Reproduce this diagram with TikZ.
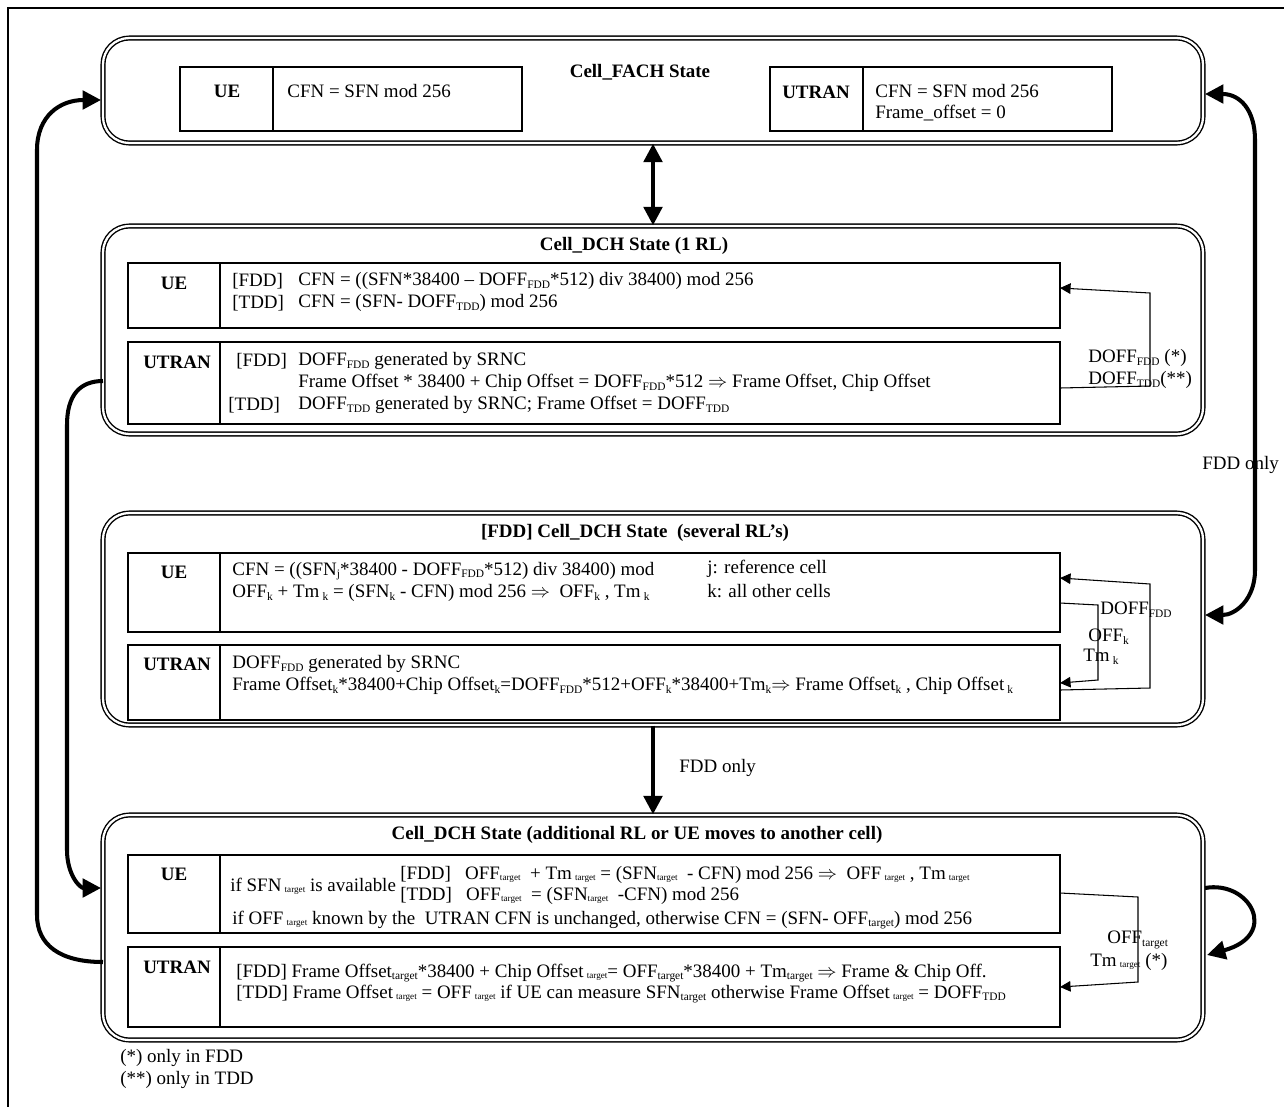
\documentclass[tikz,border=0pt]{standalone}
\usepackage{fontspec}
\setmainfont{Liberation Serif}
\usetikzlibrary{arrows.meta,fit}
\newcommand\sbx[1]{\raisebox{-0.3ex}{\fontsize{6.5}{7}\selectfont #1}}
\newcommand\tgt{\raisebox{-0.15ex}{\fontsize{5.2}{6}\selectfont target}}
\newcommand\imp{$\Rightarrow$}
\begin{document}
\begin{tikzpicture}[x=0.02cm, y=-0.02cm,
  every node/.style={font=\fontsize{10.8}{12.5}\selectfont},
  statebox/.style={draw, double, double distance=1.3pt, line width=0.8pt, rounded corners=15pt, inner sep=0pt},
  cellbox/.style={draw, line width=0.6pt, inner sep=0pt},
  hd/.style={font=\fontsize{10.8}{12.5}\selectfont\bfseries, inner sep=0pt},
  tx/.style={anchor=west, inner sep=0pt},
  bigarrow/.style={line width=2.3pt, -{Triangle[length=10.5pt,width=10.5pt]}},
  bigdbl/.style={line width=2.3pt, {Triangle[length=10.5pt,width=10.5pt]}-{Triangle[length=10.5pt,width=10.5pt]}},
  loopln/.style={line width=0.6pt, -{Triangle[length=6pt,width=6pt]}}]
\useasboundingbox (0,0) rectangle (1284,1106);
\draw[line width=1pt] (8,1110) -- (8,8) -- (1290,8);

% ---------- Cell_FACH ----------
\node[statebox, fit={(103,38) (1203,143)}] (s1) {};
\node[hd] (t1) at (640,72) {Cell\_FACH State};
\node[cellbox, fit={(180,67) (522,131)}] (c1a) {};
\draw[line width=0.6pt] (273,67) -- (273,131);
\node[hd] (c1aL) at (227,91) {UE};
\node[tx] (c1aT) at (287,91) {CFN = SFN mod 256};
\node[cellbox, fit={(770,67) (1112,131)}] (c1b) {};
\draw[line width=0.6pt] (863,67) -- (863,131);
\node[hd] (c1bL) at (816,92) {UTRAN};
\node[tx] (c1bT1) at (875,91) {CFN = SFN mod 256};
\node[tx] (c1bT2) at (875,113) {Frame\_offset = 0};

% ---------- Cell_DCH (1 RL) ----------
\node[statebox, fit={(103,226) (1203,434)}] (s2) {};
\node[hd] (t2) at (634,246) {Cell\_DCH State (1 RL)};
\node[cellbox, fit={(128,263) (1060,328)}] (c2a) {};
\draw[line width=0.6pt] (220,263) -- (220,328);
\node[hd] (c2aL) at (174,283) {UE};
\node[tx] (c2a1) at (232,281) {[FDD]};
\node[tx] (c2a2) at (298,281) {CFN = ((SFN*38400 – DOFF\sbx{FDD}*512) div 38400) mod 256};
\node[tx] (c2a3) at (232,303) {[TDD]};
\node[tx] (c2a4) at (298,303) {CFN = (SFN- DOFF\sbx{TDD}) mod 256};
\node[cellbox, fit={(128,342) (1060,424)}] (c2b) {};
\draw[line width=0.6pt] (220,342) -- (220,424);
\node[hd] (c2bL) at (177,362) {UTRAN};
\node[tx] (c2b1) at (236,361) {[FDD]};
\node[tx] (c2b2) at (298,361) {DOFF\sbx{FDD} generated by SRNC};
\node[tx] (c2b3) at (298,383) {Frame Offset * 38400 + Chip Offset = DOFF\sbx{FDD}*512 \imp{} Frame Offset, Chip Offset};
\node[tx] (c2b4) at (228,405) {[TDD]};
\node[tx] (c2b5) at (298,405) {DOFF\sbx{TDD} generated by SRNC; Frame Offset = DOFF\sbx{TDD}};
\coordinate (u2s) at (1060,388);
\coordinate (u2e) at (1060,288);
\draw[loopln] (u2s) -- (1150,386) -- (1150,293) -- (u2e);
\node[tx] (d2a) at (1088,358) {DOFF\sbx{FDD} (*)};
\node[tx] (d2b) at (1088,380) {DOFF\sbx{TDD}(**)};

% ---------- [FDD] Cell_DCH (several RL's) ----------
\node[statebox, fit={(103,513) (1203,725)}] (s3) {};
\node[hd] (t3) at (635,533) {[FDD] Cell\_DCH State\ \ (several RL’s)};
\node[cellbox, fit={(128,553) (1060,632)}] (c3a) {};
\draw[line width=0.6pt] (220,553) -- (220,632);
\node[hd] (c3aL) at (174,572) {UE};
\node[tx] (c3a1) at (232,571) {CFN = ((SFN\sbx{j}*38400 - DOFF\sbx{FDD}*512) div 38400) mod};
\node[tx] (c3a2) at (232,593) {OFF\sbx{k} + Tm\,\sbx{k} = (SFN\sbx{k} - CFN) mod 256 \imp\ \ OFF\sbx{k} , Tm\,\sbx{k}};
\node[tx] (c3a3) at (707,569) {j: reference cell};
\node[tx] (c3a4) at (707,591) {k: all other cells};
\node[cellbox, fit={(128,645) (1060,720)}] (c3b) {};
\draw[line width=0.6pt] (220,645) -- (220,720);
\node[hd] (c3bL) at (177,664) {UTRAN};
\node[tx] (c3b1) at (232,664) {DOFF\sbx{FDD} generated by SRNC};
\node[tx] (c3b2) at (232,686) {Frame Offset\sbx{k}*38400+Chip Offset\sbx{k}=DOFF\sbx{FDD}*512+OFF\sbx{k}*38400+Tm\sbx{k}\imp{} Frame Offset\sbx{k} , Chip Offset\,\sbx{k}};
\coordinate (u3s) at (1060,690);
\coordinate (u3e) at (1060,578);
\coordinate (u3s2) at (1060,603);
\coordinate (u3e2) at (1060,683);
\draw[loopln] (u3s) -- (1150,688) -- (1150,584) -- (u3e);
\draw[loopln] (u3s2) -- (1098,605) -- (1098,680) -- (u3e2);
\node[tx] (d3a) at (1100,610) {DOFF\sbx{FDD}};
\node[tx] (d3b) at (1088,637) {OFF\sbx{k}};
\node[tx] (d3c) at (1083,657) {Tm\,\sbx{k}};

% ---------- Cell_DCH (additional RL) ----------
\node[statebox, fit={(103,815) (1203,1040)}] (s4) {};
\node[hd] (t4) at (637,835) {Cell\_DCH State (additional RL or UE moves to another cell)};
\node[cellbox, fit={(128,855) (1060,933)}] (c4a) {};
\draw[line width=0.6pt] (220,855) -- (220,933);
\node[hd] (c4aL) at (174,874) {UE};
\node[tx] (c4a1) at (230,886) {if SFN\,\tgt{} is available};
\node[tx] (c4a2) at (400,875) {[FDD]\ \ \ OFF\tgt\ \ + Tm\,\tgt{} = (SFN\tgt\ \ - CFN) mod 256 \imp\ \ OFF\,\tgt\ , Tm\,\tgt};
\node[tx] (c4a3) at (400,896) {[TDD]\ \ \ OFF\tgt\ \ = (SFN\tgt\ \ -CFN) mod 256};
\node[tx] (c4a4) at (232,920) {if OFF\,\tgt{} known by the\ \ UTRAN CFN is unchanged, otherwise CFN = (SFN- OFF\sbx{target}) mod 256};
\node[cellbox, fit={(128,947) (1060,1027)}] (c4b) {};
\draw[line width=0.6pt] (220,947) -- (220,1027);
\node[hd] (c4bL) at (177,967) {UTRAN};
\node[tx] (c4b1) at (236,973) {[FDD] Frame Offset\sbx{target}*38400 + Chip Offset\,\tgt= OFF\sbx{target}*38400 + Tm\sbx{target} \imp{} Frame \& Chip Off.};
\node[tx] (c4b2) at (236,994) {[TDD] Frame Offset\,\tgt{} = OFF\,\tgt{} if UE can measure SFN\sbx{target} otherwise Frame Offset\,\tgt{} = DOFF\sbx{TDD}};
\coordinate (u4s) at (1060,893);
\coordinate (u4e) at (1060,987);
\draw[loopln] (u4s) -- (1138,897) -- (1138,982) -- (u4e);
\node[tx] (d4a) at (1107,940) {OFF\sbx{target}};
\node[tx] (d4b) at (1090,962) {Tm\,\tgt{} (*)};

% ---------- footnotes ----------
\node[tx] (f1) at (120,1058) {(*) only in FDD};
\node[tx] (f2) at (120,1080) {(**) only in TDD};

% ---------- thick connectors ----------
\draw[bigdbl] (s1.south) -- (s2.north);
\draw[bigarrow] (s3.south) -- (s4.north);
\node[tx] (fdd1) at (679,768) {FDD only};

\coordinate (r1) at (1205,94);
\coordinate (r3) at (1205,615);
\draw[bigdbl] (r1) .. controls (1240,94) and (1255,110) .. (1255,140) -- (1255,570) .. controls (1255,600) and (1235,615) .. (r3);
\node[tx] (fdd2) at (1202,465) {FDD only};

\coordinate (l1) at (101,100);
\coordinate (l4a) at (103,962);
\draw[bigarrow] (l4a) .. controls (60,962) and (37,945) .. (37,915) -- (37,150) .. controls (37,116) and (60,100) .. (l1);

\coordinate (l2) at (103,381);
\coordinate (l4b) at (101,888);
\draw[bigarrow] (l2) .. controls (80,381) and (67,395) .. (67,425) -- (67,850) .. controls (67,875) and (80,888) .. (l4b);

\coordinate (e4a) at (1205,888);
\coordinate (e4b) at (1207,955);
\draw[bigarrow] (e4a) .. controls (1250,880) and (1280,935) .. (e4b);
\end{tikzpicture}
\end{document}
